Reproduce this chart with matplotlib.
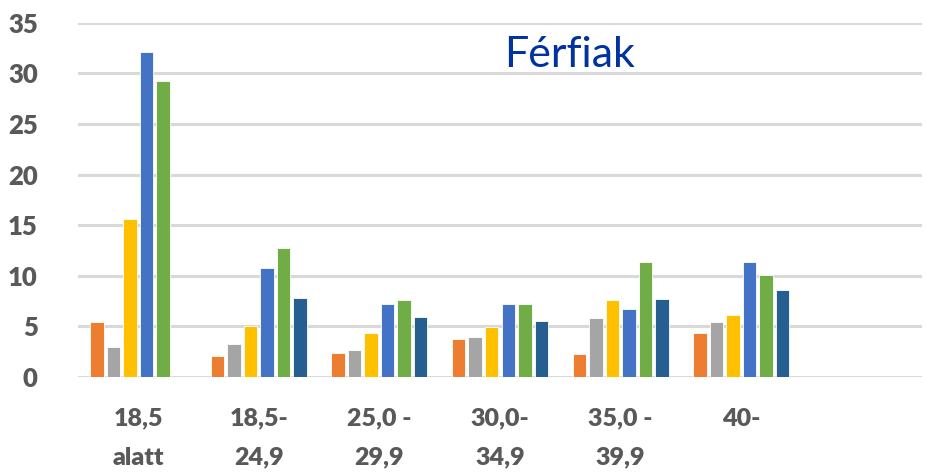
import numpy as np
import matplotlib.pyplot as plt

# Kategóriák (BMI) és értékek
kategoriak = ["18,5\nalatt", "18,5-\n24,9", "25,0 -\n29,9", "30,0-\n34,9", "35,0 -\n39,9", "40-", ""]
sor1 = [5.4, 2.1, 2.4, 3.8, 2.3, 4.3, 0]
sor2 = [3.0, 3.3, 2.7, 3.95, 5.85, 5.45, 0]
sor3 = [15.6, 5.0, 4.3, 4.9, 7.6, 6.1, 0]
sor4 = [32.1, 10.8, 7.2, 7.2, 6.7, 11.4, 0]
sor5 = [29.2, 12.7, 7.6, 7.2, 11.4, 10.1, 0]
sor6 = [0, 7.8, 5.9, 5.5, 7.7, 8.6, 0]

sorok = [sor1, sor2, sor3, sor4, sor5, sor6]
szinek = ['#ED7D31', '#A5A5A5', '#FFC000', '#4472C4', '#70AD47', '#255E91']

fig = plt.figure(figsize=(9.26, 4.75), dpi=100)
ax = fig.add_axes([0.0842, 0.2063, 0.9115, 0.7459])

x = np.arange(len(kategoriak))
lepes = 0.137
szel = 0.112
for i, (s, c) in enumerate(zip(sorok, szinek)):
    ax.bar(x + (i - 2.5) * lepes, s, width=szel, color=c, edgecolor='white',
           linewidth=0.6, zorder=3)

ax.set_xlim(-0.5, len(kategoriak) - 0.5)
ax.set_ylim(0, 35)
ax.set_yticks(range(0, 36, 5))
ax.yaxis.grid(True, color='#d9d9d9', linewidth=2.2, zorder=0)
ax.set_axisbelow(True)
for sp in ax.spines.values():
    sp.set_visible(False)
ax.tick_params(length=0)

ax.set_xticks(x)
ax.set_xticklabels(kategoriak, fontsize=18, fontweight='heavy', color='#595959',
                   family='Lato', linespacing=1.95, va='top')
ax.tick_params(axis='x', pad=22)
for lab in ax.get_yticklabels():
    lab.set_fontsize(18.5)
    lab.set_fontweight('heavy')
    lab.set_color('#595959')
    lab.set_family('Lato')
ax.tick_params(axis='y', pad=29)

fig.text(570 / 926, 1 - 67 / 475, "Férfiak", ha='center', va='baseline',
         fontsize=31, color='#0033A0', family='Lato')

fig.savefig('out.png', dpi=100)
